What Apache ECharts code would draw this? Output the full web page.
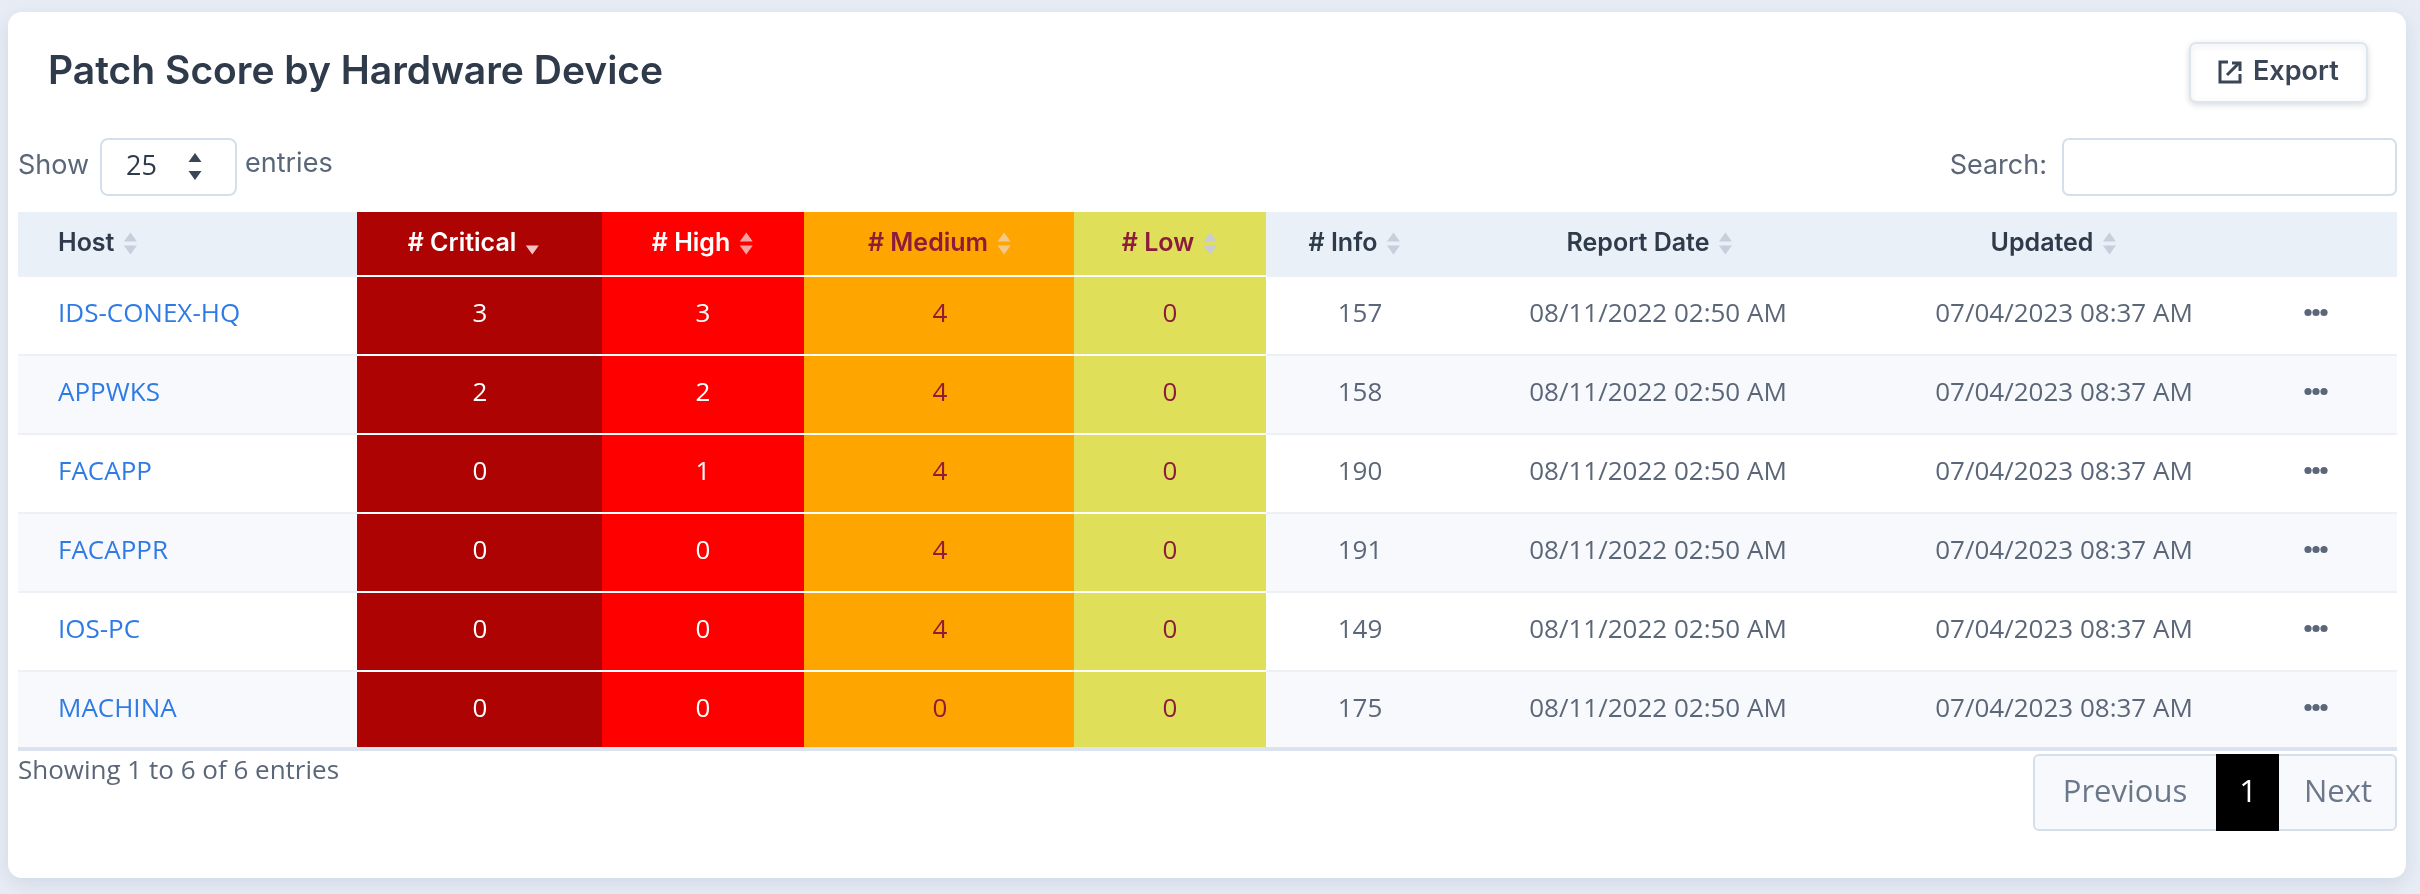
<!DOCTYPE html>
<html><head><meta charset="utf-8">
<script src="https://cdn.jsdelivr.net/npm/echarts@6/dist/echarts.min.js"></script>
<style>html,body{margin:0;padding:0;background:#e8edf5}#c{width:2420px;height:894px}</style>
</head><body><div id="c"></div>
<script>
const title = "Patch Score by Hardware Device";
const columns = ["Host", "# Critical", "# High", "# Medium", "# Low", "# Info", "Report Date", "Updated"];
const hosts = ["IDS-CONEX-HQ", "APPWKS", "FACAPP", "FACAPPR", "IOS-PC", "MACHINA"];
const critical = [3, 2, 0, 0, 0, 0];
const high = [3, 2, 1, 0, 0, 0];
const medium = [4, 4, 4, 4, 4, 0];
const low = [0, 0, 0, 0, 0, 0];
const info = [157, 158, 190, 191, 149, 175];
const reportDates = ["08/11/2022 02:50 AM","08/11/2022 02:50 AM","08/11/2022 02:50 AM","08/11/2022 02:50 AM","08/11/2022 02:50 AM","08/11/2022 02:50 AM"];
const updatedDates = ["07/04/2023 08:37 AM","07/04/2023 08:37 AM","07/04/2023 08:37 AM","07/04/2023 08:37 AM","07/04/2023 08:37 AM","07/04/2023 08:37 AM"];
const footerText = "Showing 1 to 6 of 6 entries";

const chart = echarts.init(document.getElementById('c'), null, {renderer:'canvas'});
const cv = document.createElement('canvas').getContext('2d');
function tw(str, font){ cv.font = font; return cv.measureText(str).width; }
const G = [];
function rect(x,y,w,h,fill,extra){ G.push(Object.assign({type:'rect',shape:{x,y,width:w,height:h,r:(extra&&extra.r)||0},style:Object.assign({fill},(extra&&extra.style)||{})},extra&&extra.z?{z:extra.z}:{})); }
function text(x,y,str,fill,font,align){ G.push({type:'text',x,y,style:{text:str,fill,font,align:align||'left',verticalAlign:'middle'}}); }
function tri(cx,cy,up,fill){ const s=6.5,h=9; const pts= up?[[cx-s,cy],[cx+s,cy],[cx,cy-h]]:[[cx-s,cy],[cx+s,cy],[cx,cy+h]]; G.push({type:'polygon',shape:{points:pts},style:{fill}}); }
function sortIcon(x,cy,upC,downC){ if(upC) tri(x,cy-2,true,upC); tri(x,cy+2,false,downC); }

// card
rect(8,12,2398,866,'#ffffff',{r:14,style:{shadowBlur:20,shadowColor:'rgba(100,120,160,0.18)',shadowOffsetY:6}});
// title
text(48,72,title,'#2f3a4b','600 39px Inter');
// export button
rect(2190,43,177,59,'#ffffff',{r:6,style:{stroke:'#dfe5ee',lineWidth:2,shadowBlur:6,shadowColor:'rgba(0,0,0,0.12)',shadowOffsetY:2}});
G.push({type:'group',x:2220,y:62,children:[
 {type:'polyline',shape:{points:[[8,0],[0,0],[0,20],[20,20],[20,12]]},style:{stroke:'#3a4556',lineWidth:3,fill:null}},
 {type:'line',shape:{x1:7,y1:13,x2:19,y2:1},style:{stroke:'#3a4556',lineWidth:3}},
 {type:'polyline',shape:{points:[[12,1],[20,1],[20,9]]},style:{stroke:'#3a4556',lineWidth:3,fill:null}}
]});
text(2253,72,'Export','#3a4556','600 27px Inter');
// show entries
text(18,166,'Show','#5b6778','400 27px Inter');
rect(101,139,135,56,'#ffffff',{r:7,style:{stroke:'#d5dfeb',lineWidth:2}});
text(126,167,'25','#2f3a4b','400 27px "Open Sans"');
tri(195,162,true,'#3a4556'); tri(195,171,false,'#3a4556');
text(245,164,'entries','#5b6778','400 27px Inter');
// search
text(2047,166,'Search:','#5b6778','400 27px Inter','right');
rect(2063,139,333,56,'#ffffff',{r:6,style:{stroke:'#d5dfeb',lineWidth:2}});

// table geometry
const L=18, R=2397, HY=212, HH=63, RH=79;
const colL=[L,357,602,804,1074,1266,1480,1840];
const colR=[357,602,804,1074,1266,1480,1840,2240];
const centers=[null,480,703,940,1170,1360,1658,2064];
const hdrCenters=[null,474,703,940,1170,1355,1650,2054];
const fills=[null,'#ad0303','#fe0000','#ffa500','#dfdf5a',null,null,null];
const hdrColor=['#2f3a4b','#ffffff','#ffffff','#8b1c3b','#8b1c3b','#2f3a4b','#2f3a4b','#2f3a4b'];
const valColor=[null,'#ffffff','#ffffff','#8b1c3b','#8b1c3b','#5b6778','#5b6778','#5b6778'];
const n=hosts.length;
// header
rect(L,HY,R-L,HH,'#eaf0f8');
for(let c=1;c<=4;c++) rect(colL[c],HY,colR[c]-colL[c],HH,fills[c]);
// rows
for(let i=0;i<n;i++){
  const y=HY+HH+i*RH;
  rect(L,y,R-L,RH,i%2?'#f7f9fc':'#ffffff');
  for(let c=1;c<=4;c++) rect(colL[c],y,colR[c]-colL[c],RH,fills[c]);
  rect(L,y,R-L,2,'#edf1f6');
  for(let c=1;c<=4;c++) rect(colL[c],y,colR[c]-colL[c],2,'#ffffff');
}
rect(L,HY+HH+n*RH-2,R-L,4,'#dbe3ee');
// header text
const hf='600 25px Inter';
columns.forEach((lab,c)=>{
  const cy=HY+HH/2;
  const w=tw(lab,hf);
  const sortUp = c===1?null:(c===2?'#f4a3a3':(c===3?'#f3c98a':(c===4?'#c9ccd6':'#c7cfdc')));
  const sortDn = c===1?'#f2c2c2':(c===2?'#f4a3a3':(c===3?'#f3c98a':(c===4?'#c9ccd6':'#c7cfdc')));
  let x0 = c===0?58:hdrCenters[c]-(w+24)/2;
  text(x0,cy,lab,hdrColor[c],hf);
  sortIcon(x0+w+16,cy,sortUp,sortDn);
});
// cells
const cf='400 26px "Open Sans"';
for(let i=0;i<n;i++){
  const cy=HY+HH+i*RH+RH/2;
  text(58,cy,hosts[i],'#2f7be5',cf);
  const vals=[null,critical[i],high[i],medium[i],low[i],info[i],reportDates[i],updatedDates[i]];
  for(let c=1;c<=7;c++) text(centers[c],cy,String(vals[c]),valColor[c],cf,'center');
  for(let k=-1;k<=1;k++) G.push({type:'circle',shape:{cx:2316+k*8,cy:cy-2,r:3.6},style:{fill:'#5b6778'}});
}
// footer
text(18,772,footerText,'#5b6778','400 26px "Open Sans"');
rect(2034,755,362,75,'#f7f9fc',{r:5,style:{stroke:'#d5dfeb',lineWidth:2}});
rect(2216,754,63,77,'#000000');
text(2125,793,'Previous','#6b778a','400 31px "Open Sans"','center');
text(2248,793,'1','#ffffff','400 31px "Open Sans"','center');
text(2338,793,'Next','#6b778a','400 31px "Open Sans"','center');

chart.setOption({animation:false,graphic:{elements:G}});
</script></body></html>
